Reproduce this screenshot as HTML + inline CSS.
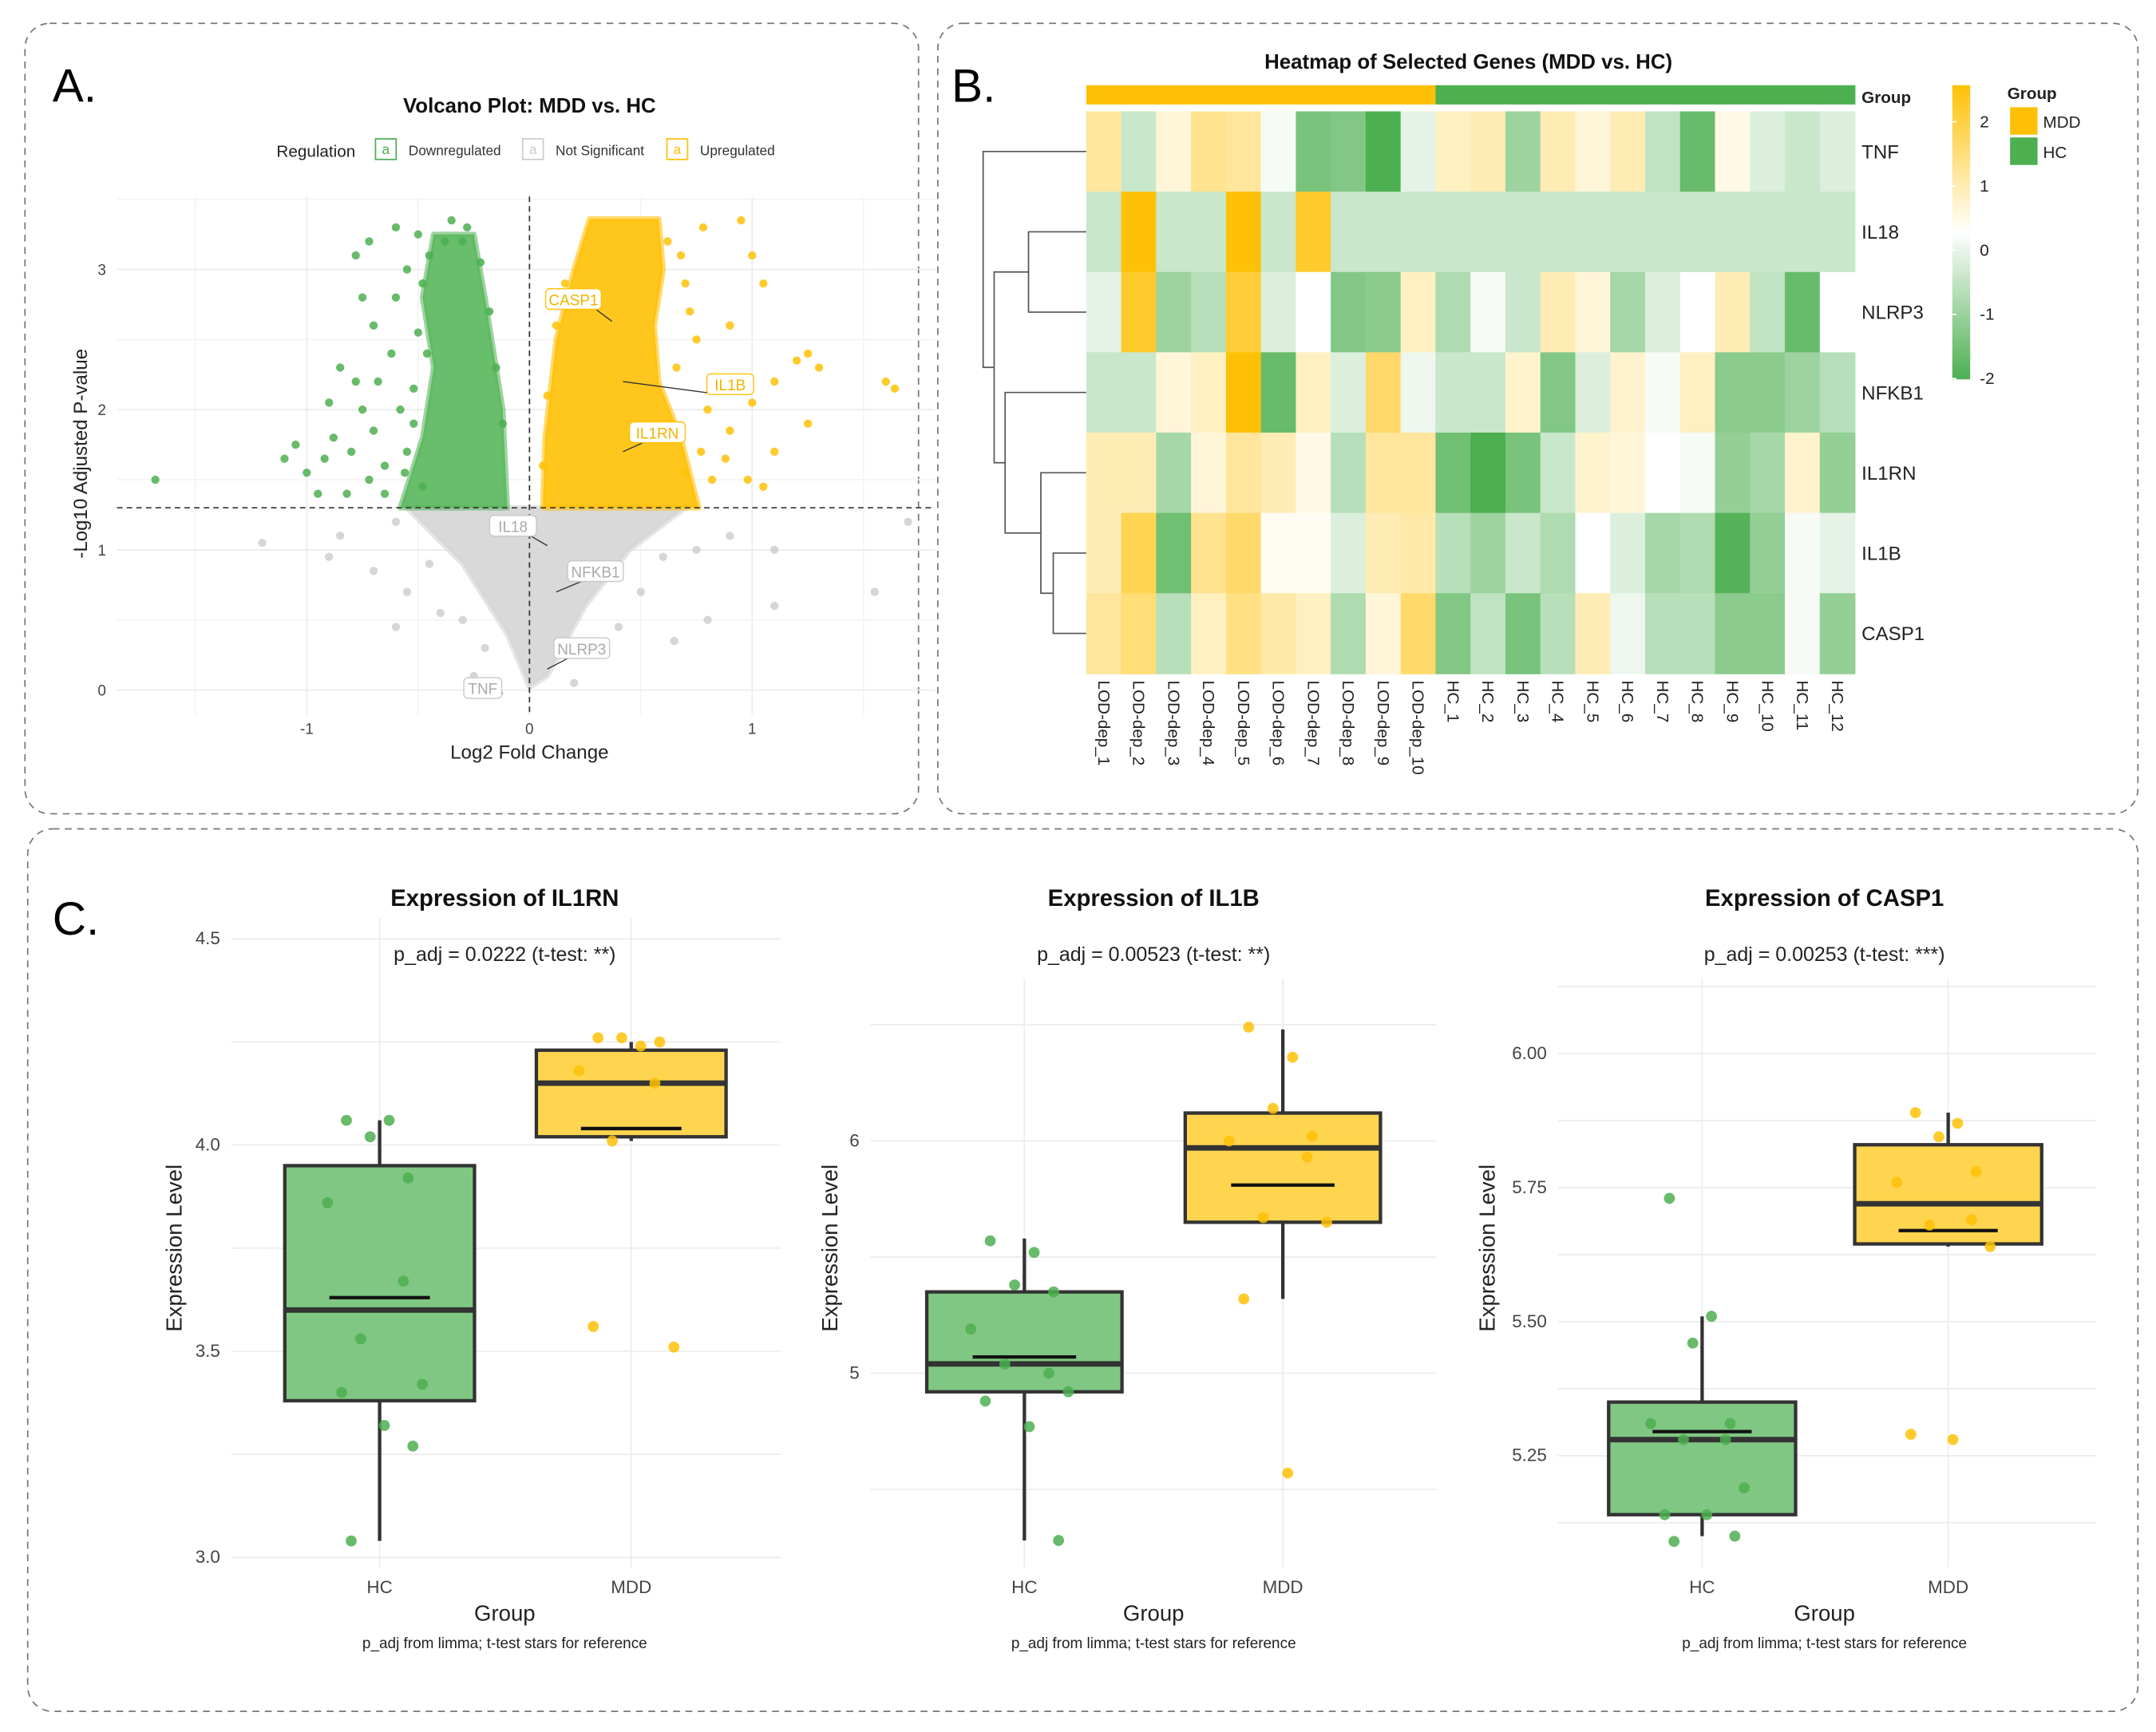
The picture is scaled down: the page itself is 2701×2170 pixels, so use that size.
<!DOCTYPE html>
<html><head><meta charset="utf-8">
<style>
html,body{margin:0;padding:0;background:#fff;}
svg{display:block;font-family:"Liberation Sans",sans-serif;}
</style></head>
<body>
<svg id="fig" width="2701" height="2170" viewBox="0 0 1568 1260" xmlns="http://www.w3.org/2000/svg">
<rect x="18" y="17" width="650" height="575" rx="18" fill="none" stroke="#777" stroke-dasharray="5,4"/>
<rect x="682" y="17" width="873" height="575" rx="18" fill="none" stroke="#777" stroke-dasharray="5,4"/>
<rect x="20" y="603" width="1535" height="642" rx="18" fill="none" stroke="#777" stroke-dasharray="5,4"/>
<text x="38" y="74" font-size="34">A.</text>
<text x="692" y="74" font-size="34">B.</text>
<text x="38" y="680" font-size="34">C.</text>
<g id="volcano"></g>
<g id="heat"></g>
<g id="boxes"></g>
</svg>
<script>
// ---------- Volcano data ----------
const greenPts=[[-1.68,1.5],[-1.1,1.65],[-1.05,1.75],[-1.0,1.55],[-0.92,1.65],[-0.88,1.8],[-0.75,2.0],[-0.7,1.85],[-0.8,1.7],[-0.72,1.5],[-0.65,1.6],[-0.78,2.2],[-0.7,2.6],[-0.75,2.8],[-0.78,3.1],[-0.72,3.2],[-0.6,3.3],[-0.55,3.0],[-0.62,2.4],[-0.58,2.0],[-0.55,1.7],[-0.6,2.8],[-0.5,3.25],[-0.45,3.1],[-0.35,3.35],[-0.3,3.2],[-0.85,2.3],[-0.95,1.4],[-0.68,2.2],[-0.65,1.4],[-0.9,2.05],[-0.82,1.4],[-0.5,2.55],[-0.52,2.15],[-0.48,1.45],[-0.22,3.05],[-0.18,2.7],[-0.15,2.3],[-0.12,1.9],[-0.48,2.9],[-0.46,2.4],[-0.52,1.9],[-0.56,1.55],[-0.38,3.2],[-0.28,3.3]];
const yellowPts=[[0.78,3.3],[0.95,3.35],[1.0,3.1],[1.05,2.9],[0.9,2.6],[0.85,2.2],[1.1,2.2],[1.2,2.35],[1.25,1.9],[1.1,1.7],[0.98,1.5],[0.9,1.85],[0.8,2.0],[0.82,1.5],[1.0,2.05],[0.75,2.5],[0.7,2.9],[0.68,3.1],[1.05,1.45],[0.77,1.7],[1.25,2.4],[1.6,2.2],[1.64,2.15],[1.3,2.3],[0.88,1.65],[0.72,2.7],[0.66,2.3],[0.64,1.9],[0.7,1.55],[0.62,3.2],[0.16,2.9],[0.12,2.6],[0.08,2.1],[0.06,1.6]];
const grayPts=[[-1.2,1.05],[-0.9,0.95],[-0.85,1.1],[-0.7,0.85],[-0.6,1.2],[-0.55,0.7],[-0.45,0.9],[-0.4,0.55],[-0.3,0.5],[-0.2,0.3],[-0.6,0.45],[0.3,0.3],[0.4,0.45],[0.5,0.7],[0.6,0.95],[0.75,1.0],[0.9,1.1],[1.1,1.0],[1.55,0.7],[1.7,1.2],[1.1,0.6],[0.8,0.5],[0.65,0.35],[-0.25,0.1],[0.2,0.05]];
const yellowHull=[[0.06,1.3],[0.07,1.8],[0.12,2.5],[0.2,3.0],[0.27,3.36],[0.58,3.36],[0.6,3.0],[0.56,2.6],[0.58,2.2],[0.68,1.8],[0.76,1.3]];
const greenHull=[[-0.1,1.3],[-0.12,2.0],[-0.2,2.8],[-0.25,3.25],[-0.43,3.25],[-0.48,2.8],[-0.43,2.3],[-0.48,1.8],[-0.58,1.3]];
const grayHull=[[-0.55,1.3],[-0.3,0.9],[-0.1,0.4],[0.0,0.02],[0.08,0.1],[0.25,0.6],[0.45,1.0],[0.7,1.3]];
const volXTicks=[-1,0,1];
const volYTicks=[0,1,2,3];
const geneLabels=[["CASP1",0.37,2.63,417,218],["IL1B",0.42,2.2,531,280],["IL1RN",0.42,1.7,478,315],["IL18",0.08,1.03,373,383],["NFKB1",0.12,0.7,433,416],["NLRP3",0.08,0.15,423,472],["TNF",-0.12,-0.02,351,501]];
// ---------- Heatmap data ----------
const genes=["TNF","IL18","NLRP3","NFKB1","IL1RN","IL1B","CASP1"];
const samples=["LOD-dep_1","LOD-dep_2","LOD-dep_3","LOD-dep_4","LOD-dep_5","LOD-dep_6","LOD-dep_7","LOD-dep_8","LOD-dep_9","LOD-dep_10","HC_1","HC_2","HC_3","HC_4","HC_5","HC_6","HC_7","HC_8","HC_9","HC_10","HC_11","HC_12"];
const rowTNF=[0.8,-0.6,0.3,0.9,0.8,-0.1,-1.5,-1.4,-2,-0.3,0.5,0.6,-1.1,0.6,0.3,0.6,-0.7,-1.7,0.2,-0.4,-0.6,-0.4];
const rowIL18=[-0.6,2,-0.6,-0.6,2,-0.6,1.7,-0.6,-0.6,-0.6,-0.6,-0.6,-0.6,-0.6,-0.6,-0.6,-0.6,-0.6,-0.6,-0.6,-0.6,-0.6];
const rowNLRP3=[-0.3,1.7,-1.1,-0.8,1.6,-0.4,0,-1.4,-1.3,0.5,-0.9,-0.1,-0.6,0.6,0.3,-1,-0.4,0,0.6,-0.7,-1.7,0];
const rowNFKB1=[-0.6,-0.6,0.3,0.5,2,-1.7,0.5,-0.4,1.2,-0.2,-0.6,-0.6,0.4,-1.4,-0.4,0.4,-0.1,0.5,-1.3,-1.3,-1.1,-0.8];
const rowIL1RN=[0.6,0.6,-1,0.3,0.8,0.6,0.2,-0.8,0.8,0.8,-1.6,-2,-1.5,-0.6,0.4,0.3,0,-0.1,-1.2,-1,0.4,-1.2];
const rowIL1B=[0.6,1.4,-1.6,0.9,1.2,0.1,0.1,-0.4,0.6,0.7,-0.8,-1.1,-0.6,-0.9,0,-0.4,-1,-0.9,-1.9,-1.2,-0.1,-0.3];
const rowCASP1=[0.8,1.1,-0.8,0.5,1,0.7,0.5,-0.9,0.3,1.2,-1.4,-0.7,-1.5,-0.8,0.6,-0.2,-0.8,-0.8,-1.3,-1.3,-0.1,-1.2];
const legendTicks=[2,1,0,-1,-2];
// ---------- Boxplot data ----------
const bxGenes=["IL1RN","IL1B","CASP1"];
const bxPadj=["p_adj = 0.0222 (t-test: **)","p_adj = 0.00523 (t-test: **)","p_adj = 0.00253 (t-test: ***)"];
const bxTicks1=[3.0,3.5,4.0,4.5], bxTickLab1=["3.0","3.5","4.0","4.5"];
const bxTicks2=[5,6], bxTickLab2=["5","6"];
const bxTicks3=[5.25,5.5,5.75,6.0], bxTickLab3=["5.25","5.50","5.75","6.00"];
// stats: [whiskerLow,q1,median,q3,whiskerHigh,mean]
const stHC1=[3.04,3.38,3.60,3.95,4.06,3.63], stMDD1=[4.01,4.02,4.15,4.23,4.25,4.04];
const stHC2=[4.28,4.92,5.04,5.35,5.58,5.07], stMDD2=[5.32,5.65,5.97,6.12,6.48,5.81];
const stHC3=[5.10,5.14,5.28,5.35,5.51,5.295], stMDD3=[5.64,5.645,5.72,5.83,5.89,5.67];
const ptsHC1=[4.06,4.06,4.02,3.92,3.86,3.67,3.53,3.42,3.40,3.32,3.27,3.04];
const ptsMDD1=[4.26,4.24,4.26,4.25,4.18,4.15,4.01,3.51,3.56];
const ptsHC2=[5.57,5.52,5.38,5.35,5.19,5.0,5.04,4.92,4.88,4.77,4.28];
const ptsMDD2=[6.49,6.36,6.14,6.02,6.0,5.93,5.67,5.65,5.32,4.57];
const ptsHC3=[5.73,5.51,5.46,5.31,5.31,5.28,5.28,5.19,5.14,5.14,5.10,5.09];
const ptsMDD3=[5.89,5.87,5.845,5.78,5.76,5.69,5.68,5.64,5.29,5.28];

const NS="http://www.w3.org/2000/svg";
function el(parent,tag,attrs,txt){const e=document.createElementNS(NS,tag);for(const k in attrs)e.setAttribute(k,attrs[k]);if(txt!==undefined)e.textContent=txt;parent.appendChild(e);return e;}

// ================= VOLCANO =================
(function(){
const g=document.getElementById('volcano');
const X=v=>385+162*v, Y=v=>502-102*v;
const L=85,R=680,T=143,B=520;
for(let v=-1.5;v<=1.5;v+=0.5){const e=el(g,'line',{x1:X(v),x2:X(v),y1:T,y2:B,stroke:Number.isInteger(v)?'#ebebeb':'#f4f4f4'});

}
for(let v=0;v<=3.5;v+=0.5){const e=el(g,'line',{x1:L,x2:R,y1:Y(v),y2:Y(v),stroke:Number.isInteger(v)?'#ebebeb':'#f4f4f4'});

}
const hull=(pts,col,name)=>{const e=el(g,'polygon',{points:pts.map(p=>X(p[0])+','+Y(p[1])).join(' '),fill:col,stroke:col,'stroke-width':4,'stroke-linejoin':'round','fill-opacity':0.92,'stroke-opacity':0.6});

};
hull(grayHull,'#d6d6d6','not-significant-density');
hull(greenHull,'#5cb85f','downregulated-density');
hull(yellowHull,'#ffc10a','upregulated-density');
const pts=(arr,col,name)=>arr.forEach(p=>{const e=el(g,'circle',{cx:X(p[0]),cy:Y(p[1]),r:3,fill:col,'fill-opacity':0.85});

});
pts(grayPts,'#cfcfcf','not-significant-point');
pts(greenPts,'#4caf50','downregulated-point');
pts(yellowPts,'#ffc107','upregulated-point');
let e=el(g,'line',{x1:L,x2:R,y1:Y(1.3),y2:Y(1.3),stroke:'#333','stroke-dasharray':'4,3'});


e=el(g,'line',{x1:X(0),x2:X(0),y1:T,y2:B,stroke:'#333','stroke-dasharray':'4,3'});


geneLabels.forEach(d=>{const col=d[2]>1.3?'#ffc107':'#c8c8c8';const tc=d[2]>1.3?'#f0b400':'#aaa';
const w=d[0].length*6.5+8;
const ln=el(g,'line',{x1:d[3]+(d[3]<X(d[1])?w/2-4:-w/2+10),y1:d[4]+7,x2:X(d[1]),y2:Y(d[2]),stroke:'#333','stroke-width':0.8});


const r=el(g,'rect',{x:d[3]-w/2,y:d[4]-8,width:w,height:15,rx:3,fill:'#fff',stroke:col,'stroke-width':0.8});


const t=el(g,'text',{x:d[3],y:d[4]+4,'font-size':11,'text-anchor':'middle',fill:tc},d[0]);

});
volXTicks.forEach(v=>{const t=el(g,'text',{x:X(v),y:534,'font-size':11,'text-anchor':'middle',fill:'#444'},v);

});
volYTicks.forEach(v=>{const t=el(g,'text',{x:77,y:Y(v)+4,'font-size':11,'text-anchor':'end',fill:'#444'},v);

});
e=el(g,'text',{x:385,y:552,'font-size':14,'text-anchor':'middle',fill:'#222'},'Log2 Fold Change');


e=el(g,'text',{x:63,y:330,'font-size':14,'text-anchor':'middle',fill:'#222',transform:'rotate(-90 63 330)'},'-Log10 Adjusted P-value');


e=el(g,'text',{x:385,y:82,'font-size':15,'font-weight':'bold','text-anchor':'middle',fill:'#111'},'Volcano Plot: MDD vs. HC');


e=el(g,'text',{x:201,y:114,'font-size':12,fill:'#222'},'Regulation');


[[273,'#4caf50','Downregulated',297],[380,'#ccc','Not Significant',404],[485,'#ffc107','Upregulated',509]].forEach(d=>{
const r=el(g,'rect',{x:d[0],y:101,width:15,height:15,fill:'#fff',stroke:d[1]});


const a=el(g,'text',{x:d[0]+7.5,y:112,'font-size':10,'text-anchor':'middle',fill:d[1]},'a');


const t=el(g,'text',{x:d[3],y:113,'font-size':10,fill:'#333'},d[2]);

});
})();

// ================= HEATMAP =================
(function(){
const g=document.getElementById('heat');
const rows=[rowTNF,rowIL18,rowNLRP3,rowNFKB1,rowIL1RN,rowIL1B,rowCASP1];
const x0=790,x1=1349,y0=81,y1=490;
const cw=(x1-x0)/samples.length, rh=(y1-y0)/genes.length;
const col=v=>{v=Math.max(-2,Math.min(2,v));let c1,t=Math.abs(v)/2;
if(v>=0)c1=[255,193,7];else c1=[76,175,80];
const m=i=>Math.round(255+(c1[i]-255)*t);return 'rgb('+m(0)+','+m(1)+','+m(2)+')';};
let e=el(g,'text',{x:1068,y:50,'font-size':15,'font-weight':'bold','text-anchor':'middle',fill:'#111'},'Heatmap of Selected Genes (MDD vs. HC)');


samples.forEach((s,j)=>{const mdd=s.startsWith('LOD');
const r=el(g,'rect',{x:x0+j*cw,y:62,width:cw+0.5,height:14,fill:mdd?'#ffc107':'#4caf50'});


const cx=x0+(j+0.5)*cw;
const t=el(g,'text',{x:cx-4,y:495,'font-size':12,fill:'#222',transform:'rotate(90 '+(cx-4)+' 495)'},s);

});
e=el(g,'text',{x:1354,y:75,'font-size':12,'font-weight':'bold',fill:'#222'},'Group');


rows.forEach((row,i)=>{row.forEach((v,j)=>{const r=el(g,'rect',{x:x0+j*cw,y:y0+i*rh,width:cw+0.5,height:rh+0.5,fill:col(v)});

});
const t=el(g,'text',{x:1354,y:y0+(i+0.5)*rh+5,'font-size':14,fill:'#222'},genes[i]);

});
const ry=i=>y0+(i+0.5)*rh;
const mid=(a,b)=>(a+b)/2;
const m12=mid(ry(1),ry(2)), m56=mid(ry(5),ry(6));
const j4=757, m4=mid(ry(4),m56);
const j3=731, m3=mid(ry(3),m4);
const j12=723, mA=mid(m12,m3);
const j0=715;
const segs=[[748,ry(1),ry(2),790,790],[766,ry(5),ry(6),790,790],[j4,ry(4),m56,790,766],[j3,ry(3),m4,790,j4],[j12,m12,m3,748,j3],[j0,ry(0),mA,790,j12]];
segs.forEach(s=>{const p=el(g,'path',{d:'M'+s[3]+' '+s[1]+'H'+s[0]+'V'+s[2]+'H'+s[4],fill:'none',stroke:'#555','stroke-width':1});

});
const defs=el(g,'defs',{});const lg=el(defs,'linearGradient',{id:'cb',x1:0,y1:0,x2:0,y2:1});
el(lg,'stop',{offset:'0','stop-color':col(2.2)});el(lg,'stop',{offset:'0.5','stop-color':'#fff'});el(lg,'stop',{offset:'1','stop-color':col(-2.2)});
e=el(g,'rect',{x:1420,y:62,width:13,height:214,fill:'url(#cb)'});


legendTicks.forEach(v=>{const yy=182-v*46.7;
const l=el(g,'line',{x1:1420,x2:1423,y1:yy,y2:yy,stroke:'#fff'});


const t=el(g,'text',{x:1440,y:yy+4,'font-size':12,fill:'#222'},v);

});
e=el(g,'text',{x:1460,y:72,'font-size':12,'font-weight':'bold',fill:'#222'},'Group');


[['MDD','#ffc107',78],['HC','#4caf50',100]].forEach(d=>{const r=el(g,'rect',{x:1462,y:d[2],width:20,height:20,fill:d[1]});


const t=el(g,'text',{x:1486,y:d[2]+15,'font-size':12,fill:'#222'},d[0]);

});
})();

// ================= BOXPLOTS =================
(function(){
const g=document.getElementById('boxes');
const cfg=[
 {cx:367,L:168,R:568,hc:276,mdd:459,bw:138,y0v:3.0,y0:1133,k:300,ticks:bxTicks1,labs:bxTickLab1,ylab:127,tx:160,top:668,bot:1140,st:[stHC1,stMDD1],pts:[ptsHC1,ptsMDD1],gy:[3.0,4.5]},
 {cx:839,L:633,R:1045,hc:745,mdd:933,bw:142,y0v:5,y0:999,k:169,ticks:bxTicks2,labs:bxTickLab2,ylab:604,tx:625,top:712,bot:1140,st:[stHC2,stMDD2],pts:[ptsHC2,ptsMDD2],gy:[4.5,6.5]},
 {cx:1327,L:1133,R:1525,hc:1238,mdd:1417,bw:136,y0v:5.25,y0:1059,k:390,ticks:bxTicks3,labs:bxTickLab3,ylab:1082,tx:1125,top:712,bot:1140,st:[stHC3,stMDD3],pts:[ptsHC3,ptsMDD3],gy:[5.125,6.125]}];
const jit=[-0.35,0.1,-0.1,0.3,-0.55,0.25,-0.2,0.45,-0.4,0.05,0.35,-0.3];
cfg.forEach((c,ci)=>{
const Y=v=>c.y0-(v-c.y0v)*c.k;
for(let v=c.gy[0];v<=c.gy[1]+1e-9;v+=(c.ticks[1]-c.ticks[0])/2){const yy=Y(v);if(yy<c.top-5||yy>c.bot)continue;
const l=el(g,'line',{x1:c.L,x2:c.R,y1:yy,y2:yy,stroke:'#ececec'});

}
[c.hc,c.mdd].forEach(x=>{const l=el(g,'line',{x1:x,x2:x,y1:c.top,y2:c.bot,stroke:'#ececec'});

});
c.ticks.forEach((v,i)=>{const t=el(g,'text',{x:c.tx,y:Y(v)+4,'font-size':13,'text-anchor':'end',fill:'#444'},c.labs[i]);

});
[[c.hc,'HC'],[c.mdd,'MDD']].forEach(d=>{const t=el(g,'text',{x:d[0],y:1159,'font-size':13,'text-anchor':'middle',fill:'#444'},d[1]);

});
[[c.hc,'#4caf50',0],[c.mdd,'#ffc107',1]].forEach(d=>{const s=c.st[d[2]];const x=d[0],hw=c.bw/2;
const w=el(g,'line',{x1:x,x2:x,y1:Y(s[0]),y2:Y(s[4]),stroke:'#333','stroke-width':2.5});


const b=el(g,'rect',{x:x-hw,y:Y(s[3]),width:c.bw,height:Y(s[1])-Y(s[3]),fill:d[2]?'#ffd54f':'#80c783',stroke:'#333','stroke-width':2.5});


const m=el(g,'line',{x1:x-hw,x2:x+hw,y1:Y(s[2]),y2:Y(s[2]),stroke:'#333','stroke-width':4});


const mn=el(g,'line',{x1:x-hw*0.53,x2:x+hw*0.53,y1:Y(s[5]),y2:Y(s[5]),stroke:'#111','stroke-width':2.5});


c.pts[d[2]].forEach((v,i)=>{const p=el(g,'circle',{cx:x+jit[i%jit.length]*hw,cy:Y(v),r:4,fill:d[1],'fill-opacity':0.85});

});});
let e=el(g,'text',{x:c.cx,y:659,'font-size':17,'font-weight':'bold','text-anchor':'middle',fill:'#111'},'Expression of '+bxGenes[ci]);


e=el(g,'text',{x:c.cx,y:699,'font-size':14.5,'text-anchor':'middle',fill:'#222'},bxPadj[ci]);


e=el(g,'text',{x:c.cx,y:1179,'font-size':16,'text-anchor':'middle',fill:'#222'},'Group');


e=el(g,'text',{x:c.cx,y:1199,'font-size':11,'text-anchor':'middle',fill:'#222'},'p_adj from limma; t-test stars for reference');


const yc=908;
e=el(g,'text',{x:c.ylab+5,y:yc,'font-size':16,'text-anchor':'middle',fill:'#222',transform:'rotate(-90 '+(c.ylab+5)+' '+yc+')'},'Expression Level');


});
})();
</script>
</body></html>
